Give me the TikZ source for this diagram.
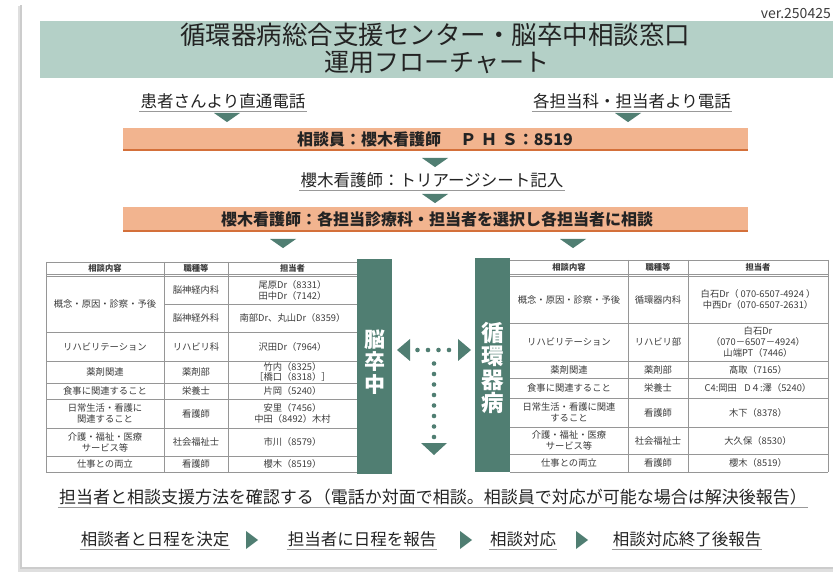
\documentclass[tikz,border=0pt]{standalone}
\usepackage{fontspec}
\setmainfont{Noto Sans CJK JP}
\definecolor{band}{RGB}{180,208,199}
\definecolor{tealx}{RGB}{80,126,114}
\definecolor{boxfill}{RGB}{242,180,143}
\definecolor{boxline}{RGB}{212,112,58}
\definecolor{txt}{RGB}{35,35,35}
\definecolor{ctxt}{RGB}{60,60,60}
\definecolor{gridc}{RGB}{150,150,150}
\tikzset{
  cell/.style={font=\fontsize{9.3}{11}\selectfont, text=ctxt, align=center, inner sep=0pt},
  hcell/.style={font=\bfseries\fontsize{8.3}{10}\selectfont, text=ctxt, align=center, inner sep=0pt},
  ultext/.style={font=\fontsize{16.5}{18}\selectfont, text=txt, inner sep=1pt},
  ulline/.style={draw=gray!80, line width=0.7pt},
  boxtext/.style={font=\bfseries\fontsize{16}{18}\selectfont, text=txt, inner sep=0pt},
  gline/.style={draw=gridc, line width=0.6pt},
  bartext/.style={font=\bfseries\fontsize{21}{22.5}\selectfont, text=white, align=center, inner sep=0pt},
}
\newcommand{\dtri}[3]{\fill[tealx] (#1-#3,#2) -- (#1+#3,#2) -- (#1,#2+0.7*#3) -- cycle;}
\newcommand{\rtri}[2]{\fill[tealx] (#1,#2-9) -- (#1+12,#2) -- (#1,#2+9) -- cycle;}
\newcommand{\ul}[1]{\draw[ulline] ([yshift=-1.5pt]#1.south west) -- ([yshift=-1.5pt]#1.south east);}
\begin{document}
\begin{tikzpicture}[x=1pt,y=-1pt]
\useasboundingbox (0,0) rectangle (833,577);
\clip (0,0) rectangle (833,577);
\fill[white] (0,0) rectangle (833,577);
% frame with shadow
\fill[gray!25] (18,6) rectangle (850,572);
\fill[gray!40] (20,5) rectangle (850,569);
\fill[white] (22,3) rectangle (850,567);
% header band
\fill[band] (40,21) rectangle (850,78);
\node[font=\fontsize{25.5}{27}\selectfont, text=txt] (title1) at (435,35) {循環器病総合支援センター・脳卒中相談窓口};
\node[font=\fontsize{25}{27}\selectfont, text=txt] (title2) at (437,62) {運用フローチャート};
\node[font=\fontsize{14}{15}\selectfont, text=ctxt, anchor=east, inner sep=0pt] (ver) at (831,14) {ver.250425};
% sources
\node[ultext] (src1) at (223,101) {患者さんより直通電話};
\ul{src1}
\node[ultext] (src2) at (632,101) {各担当科・担当者より電話};
\ul{src2}
\dtri{227}{113}{13}
\dtri{628}{113}{13}
% box 1
\fill[boxfill] (123,128) rectangle (748,150);
\draw[boxline, line width=2pt] (123,150) -- (748,150);
\node[boxtext] (box1) at (435,139) {相談員：櫻木看護師\hspace{1.2em}Ｐ\hspace{0.3em}Ｈ\hspace{0.3em}Ｓ：8519};
\dtri{435}{158}{13}
\node[ultext] (triage) at (432,180) {櫻木看護師：トリアージシート記入};
\ul{triage}
\dtri{435}{194}{13}
% box 2
\fill[boxfill] (123,207) rectangle (748,231);
\draw[boxline, line width=2pt] (123,231) -- (748,231);
\node[boxtext] (box2) at (437,219) {櫻木看護師：各担当診療科・担当者を選択し各担当者に相談};
\dtri{283}{239}{13}
\dtri{573}{239}{13}
% left table grid
\foreach \yy in {262,304,332,361,383,399,428,456,472} {\draw[gline] (46,\yy) -- (357,\yy);}
\fill[white] (47,302) rectangle (163.5,306);
\draw[gline] (46,274) -- (357,274);
\draw[gline] (46,276.5) -- (357,276.5);
\foreach \xx in {46,164,228} {\draw[gline] (\xx,262) -- (\xx,472);}
% left table text
\node[hcell] (lh1) at (105,268.5) {相談内容};
\node[hcell] (lh2) at (196,268.5) {職種等};
\node[hcell] (lh3) at (292.5,268.5) {担当者};
\node[cell] (l11) at (105,304) {概念・原因・診察・予後};
\node[cell] (l12) at (196,290) {脳神経内科};
\node[cell] (l13) at (292.5,290) {尾原Dr（8331）\\田中Dr（7142）};
\node[cell] (l22) at (196,318) {脳神経外科};
\node[cell] (l23) at (292.5,318) {南部Dr、丸山Dr（8359）};
\node[cell] (l31) at (105,346.5) {リハビリテーション};
\node[cell] (l32) at (196,346.5) {リハビリ科};
\node[cell] (l33) at (292.5,346.5) {沢田Dr（7964）};
\node[cell] (l41) at (105,372) {薬剤関連};
\node[cell] (l42) at (196,372) {薬剤部};
\node[cell, font=\fontsize{9.3}{10.3}\selectfont] (l43) at (292.5,372) {竹内（8325）\\［橋口（8318）］};
\node[cell] (l51) at (105,391) {食事に関連すること};
\node[cell] (l52) at (196,391) {栄養士};
\node[cell] (l53) at (292.5,391) {片岡（5240）};
\node[cell] (l61) at (105,413.5) {日常生活・看護に\\関連すること};
\node[cell] (l62) at (196,413.5) {看護師};
\node[cell] (l63) at (292.5,413.5) {安里（7456）\\中田（8492）木村};
\node[cell] (l71) at (105,442) {介護・福祉・医療\\サービス等};
\node[cell] (l72) at (196,442) {社会福祉士};
\node[cell] (l73) at (292.5,442) {市川（8579）};
\node[cell] (l81) at (105,464) {仕事との両立};
\node[cell] (l82) at (196,464) {看護師};
\node[cell] (l83) at (292.5,464) {櫻木（8519）};
% left bar
\fill[tealx] (357,259) rectangle (392,474);
\node[bartext] (barL) at (374.5,362) {脳\\卒\\中};
% right bar
\fill[tealx] (475,258) rectangle (510,472);
\node[bartext, font=\bfseries\fontsize{22.5}{23.5}\selectfont] (barR) at (492.5,368) {循\\環\\器\\病};
% right table grid
\foreach \yy in {260,323,361,378,398,427,454,472} {\draw[gline] (510,\yy) -- (828,\yy);}
\draw[gline] (510,274) -- (828,274);
\draw[gline] (510,276.5) -- (828,276.5);
\foreach \xx in {628,688,828} {\draw[gline] (\xx,260) -- (\xx,472);}
% right table text
\node[hcell] (rh1) at (569,267.5) {相談内容};
\node[hcell] (rh2) at (658,267.5) {職種等};
\node[hcell] (rh3) at (758,267.5) {担当者};
\node[cell] (r11) at (569,299.5) {概念・原因・診察・予後};
\node[cell] (r12) at (658,299.5) {循環器内科};
\node[cell] (r13) at (758,299.5) {白石Dr（ 070-6507-4924 ）\\中西Dr（070-6507-2631）};
\node[cell] (r21) at (569,342) {リハビリテーション};
\node[cell] (r22) at (658,342) {リハビリ部};
\node[cell] (r23) at (758,342) {白石Dr\\（070－6507－4924）\\山端PT（7446）};
\node[cell] (r31) at (569,369.5) {薬剤関連};
\node[cell] (r32) at (658,369.5) {薬剤部};
\node[cell] (r33) at (758,369.5) {髙取（7165）};
\node[cell] (r41) at (569,388) {食事に関連すること};
\node[cell] (r42) at (658,388) {栄養士};
\node[cell] (r43) at (758,388) {C4:岡田\hspace{0.8em}D４:澤（5240）};
\node[cell] (r51) at (569,412.5) {日常生活・看護に関連\\すること};
\node[cell] (r52) at (658,412.5) {看護師};
\node[cell] (r53) at (758,412.5) {木下（8378）};
\node[cell] (r61) at (569,440.5) {介護・福祉・医療\\サービス等};
\node[cell] (r62) at (658,440.5) {社会福祉士};
\node[cell] (r63) at (758,440.5) {大久保（8530）};
\node[cell] (r71) at (569,463) {仕事との両立};
\node[cell] (r72) at (658,463) {看護師};
\node[cell] (r73) at (758,463) {櫻木（8519）};
% dotted arrows between bars
\fill[tealx] (397,350) -- (410,339) -- (410,361) -- cycle;
\fill[tealx] (471,350) -- (458,339) -- (458,361) -- cycle;
\foreach \xx in {417.5,428,438.5,449} {\fill[tealx] (\xx,350) circle (2.3);}
\foreach \yy in {363.5,374,384.5,395,405.5,416,426.5,437} {\fill[tealx] (434,\yy) circle (2.3);}
\fill[tealx] (421,443) -- (447,443) -- (434,455) -- cycle;
% bottom
\node[ultext, font=\fontsize{17}{19}\selectfont] (confirm) at (433,497) {担当者と相談支援方法を確認する（電話か対面で相談。相談員で対応が可能な場合は解決後報告）};
\ul{confirm}
\node[ultext] (s1) at (155,539) {相談者と日程を決定};
\ul{s1}
\rtri{246}{540}
\node[ultext] (s2) at (362,539) {担当者に日程を報告};
\ul{s2}
\rtri{460}{540}
\node[ultext] (s3) at (523,539) {相談対応};
\ul{s3}
\rtri{576}{540}
\node[ultext] (s4) at (687,539) {相談対応終了後報告};
\ul{s4}
\end{tikzpicture}
\end{document}
